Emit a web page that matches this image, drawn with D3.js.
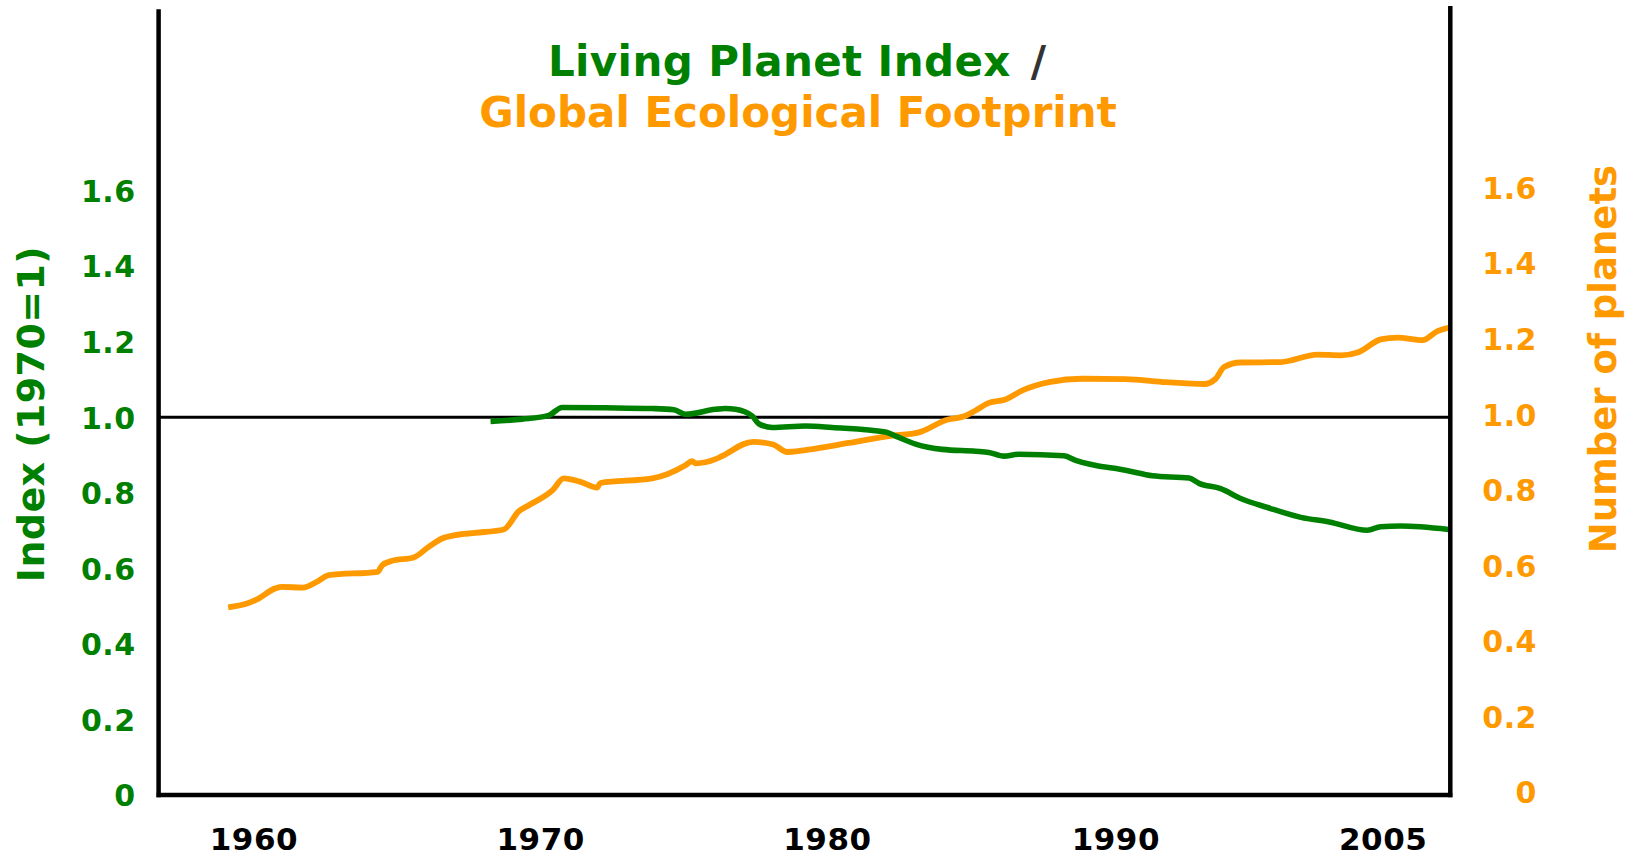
<!DOCTYPE html>
<html>
<head>
<meta charset="utf-8">
<script src="https://cdn.jsdelivr.net/npm/d3@7/dist/d3.min.js"></script>
<style>
  html, body { margin: 0; padding: 0; background: #fff; }
  svg { display: block; font-family: "DejaVu Sans", Verdana, sans-serif; font-weight: bold; }
</style>
</head>
<body>
<svg id="chart" width="1636" height="857"></svg>
<script>
// ---- Data ----
const footprintYears = [1961.0, 1961.68, 1962.04, 1962.70, 1962.94, 1963.68, 1964.26, 1964.62, 1966.39, 1966.55,
  1966.91, 1967.69, 1968.23, 1968.71, 1969.19, 1969.91, 1970.94, 1971.48, 1971.84, 1972.70,
  1973.10, 1973.70, 1974.30, 1974.42, 1976.29, 1977.49, 1977.73, 1977.85, 1978.57, 1978.80,
  1979.93, 1980.65, 1981.16, 1982.18, 1983.38, 1984.82, 1985.91, 1986.87, 1987.59, 1987.95,
  1988.43, 1989.03, 1989.64, 1990.60, 1991.80, 1993.36, 1994.81, 1996.19, 1996.61, 1996.91,
  1997.51, 1998.96, 2000.28, 2001.12, 2001.78, 2002.56, 2003.16, 2004.07, 2004.61, 2005.0];
const footprintValues = [0.497, 0.507, 0.518, 0.547, 0.551, 0.549, 0.567, 0.582, 0.591, 0.608,
  0.620, 0.629, 0.657, 0.679, 0.688, 0.694, 0.703, 0.751, 0.767, 0.807,
  0.838, 0.829, 0.814, 0.826, 0.838, 0.873, 0.884, 0.878, 0.889, 0.897,
  0.935, 0.928, 0.908, 0.917, 0.932, 0.950, 0.960, 0.992, 1.004, 1.018,
  1.038, 1.047, 1.071, 1.093, 1.102, 1.101, 1.093, 1.088, 1.102, 1.133,
  1.145, 1.146, 1.166, 1.164, 1.173, 1.206, 1.211, 1.204, 1.228, 1.237];

const lpiYears = [1970.46, 1971.60, 1972.56, 1973.04, 1974.60, 1976.29, 1977.07, 1977.49, 1978.57, 1978.93,
  1979.29, 1979.90, 1980.13, 1980.62, 1981.82, 1982.78, 1984.70, 1985.07, 1985.79, 1986.75,
  1987.95, 1988.43, 1988.97, 1989.51, 1991.14, 1991.56, 1993.48, 1994.33, 1995.65, 1996.01,
  1996.79, 1997.51, 1998.48, 1999.68, 2000.70, 2002.08, 2002.56, 2003.28, 2005.0];
const lpiValues = [0.989, 0.995, 1.005, 1.026, 1.025, 1.023, 1.020, 1.008, 1.021, 1.023,
  1.021, 1.003, 0.983, 0.973, 0.977, 0.973, 0.961, 0.950, 0.929, 0.915,
  0.910, 0.907, 0.897, 0.902, 0.898, 0.886, 0.858, 0.845, 0.839, 0.825,
  0.811, 0.785, 0.761, 0.735, 0.723, 0.701, 0.710, 0.712, 0.703];

const xTickYears = [1961.91, 1972.25, 1982.59, 1992.99, 2002.63];
const xTickLabels = ["1960", "1970", "1980", "1990", "2005"];
const yTickValues = [0, 0.2, 0.4, 0.6, 0.8, 1.0, 1.2, 1.4, 1.6];
const yTickLabels = ["0", "0.2", "0.4", "0.6", "0.8", "1.0", "1.2", "1.4", "1.6"];
const referenceValue = 1.0;

const titleLine1 = "Living Planet Index";
const titleSlash = "/";
const titleLine2 = "Global Ecological Footprint";
const leftAxisTitle = "Index (1970=1)";
const rightAxisTitle = "Number of planets";

// ---- Styles / layout ----
const GREEN = "#008000";
const ORANGE = "#FF9900";
const plotLeft = 158.6, plotRight = 1450.3, plotBottom = 795, plotTop = 9.3;

const svg = d3.select("#chart");

const x = d3.scaleLinear().domain([1958.49, 2005.07]).range([plotLeft, plotRight]);
const y = d3.scaleLinear().domain([0, 2.08]).range([plotBottom, plotTop]);

// reference line at 1.0
svg.append("line")
  .attr("x1", plotLeft).attr("x2", plotRight)
  .attr("y1", y(referenceValue)).attr("y2", y(referenceValue))
  .attr("stroke", "#000").attr("stroke-width", 3.2);

// series
const line = d3.line().x(d => x(d[0])).y(d => y(d[1])).curve(d3.curveMonotoneX);

const fpData = footprintYears.map((yr, i) => [yr, footprintValues[i]]);
const lpiData = lpiYears.map((yr, i) => [yr, lpiValues[i]]);

svg.append("path").datum(fpData)
  .attr("d", line).attr("fill", "none")
  .attr("stroke", ORANGE).attr("stroke-width", 5.8)
  .attr("stroke-linejoin", "round").attr("stroke-linecap", "butt");

svg.append("path").datum(lpiData)
  .attr("d", line).attr("fill", "none")
  .attr("stroke", GREEN).attr("stroke-width", 5.6)
  .attr("stroke-linejoin", "round").attr("stroke-linecap", "butt");

// axis frame lines
svg.append("line").attr("x1", plotLeft).attr("x2", plotLeft)
  .attr("y1", plotTop).attr("y2", plotBottom + 2.2)
  .attr("stroke", "#000").attr("stroke-width", 4.5);
svg.append("line").attr("x1", plotRight).attr("x2", plotRight)
  .attr("y1", 6).attr("y2", plotBottom + 2.2)
  .attr("stroke", "#000").attr("stroke-width", 4.5);
svg.append("line").attr("x1", plotLeft - 2).attr("x2", plotRight + 2)
  .attr("y1", plotBottom).attr("y2", plotBottom)
  .attr("stroke", "#000").attr("stroke-width", 4.5);

// left axis
const leftAxis = svg.append("g")
  .attr("transform", `translate(${plotLeft},0)`)
  .call(d3.axisLeft(y).tickValues(yTickValues)
    .tickFormat((d, i) => yTickLabels[i]).tickSize(0).tickPadding(23));
leftAxis.select(".domain").remove();
leftAxis.selectAll("text")
  .attr("fill", GREEN).attr("dy", "0.36em")
  .style("font-size", "30px").style("font-family", "DejaVu Sans").style("font-weight", "bold")
  .style("letter-spacing", "0.5px");

// right axis (labels right-aligned)
const rightAxis = svg.append("g")
  .attr("transform", `translate(${plotRight},-3)`)
  .call(d3.axisRight(y).tickValues(yTickValues)
    .tickFormat((d, i) => yTickLabels[i]).tickSize(0).tickPadding(0));
rightAxis.select(".domain").remove();
rightAxis.selectAll("text")
  .attr("fill", ORANGE).attr("dy", "0.36em")
  .attr("x", 1537 - plotRight).attr("text-anchor", "end")
  .style("font-size", "30px").style("font-family", "DejaVu Sans").style("font-weight", "bold")
  .style("letter-spacing", "0.5px");

// bottom axis
const bottomAxis = svg.append("g")
  .attr("transform", `translate(0,${plotBottom})`)
  .call(d3.axisBottom(x).tickValues(xTickYears)
    .tickFormat((d, i) => xTickLabels[i]).tickSize(0));
bottomAxis.select(".domain").remove();
bottomAxis.selectAll("text")
  .attr("fill", "#000").attr("y", 55).attr("dy", 0)
  .style("font-size", "31px").style("font-family", "DejaVu Sans").style("font-weight", "bold")
  .style("letter-spacing", "0.5px");

// axis titles
svg.append("text")
  .attr("transform", "translate(44,414) rotate(-90)")
  .attr("text-anchor", "middle")
  .attr("fill", GREEN)
  .style("font-size", "38px")
  .style("letter-spacing", "0.4px")
  .text(leftAxisTitle);

svg.append("text")
  .attr("transform", "translate(1616,359) rotate(-90)")
  .attr("text-anchor", "middle")
  .attr("fill", ORANGE)
  .style("font-size", "37px")
  .text(rightAxisTitle);

// title
const t1 = svg.append("text")
  .attr("x", 797).attr("y", 76)
  .attr("text-anchor", "middle")
  .style("font-size", "42px");
t1.append("tspan").attr("fill", GREEN).style("letter-spacing", "0.4px").text(titleLine1);
t1.append("tspan").attr("fill", "#333333").attr("dx", 20).text(titleSlash);

svg.append("text")
  .attr("x", 798).attr("y", 127)
  .attr("text-anchor", "middle")
  .attr("fill", ORANGE)
  .style("font-size", "42px")
  .text(titleLine2);
</script>
</body>
</html>
